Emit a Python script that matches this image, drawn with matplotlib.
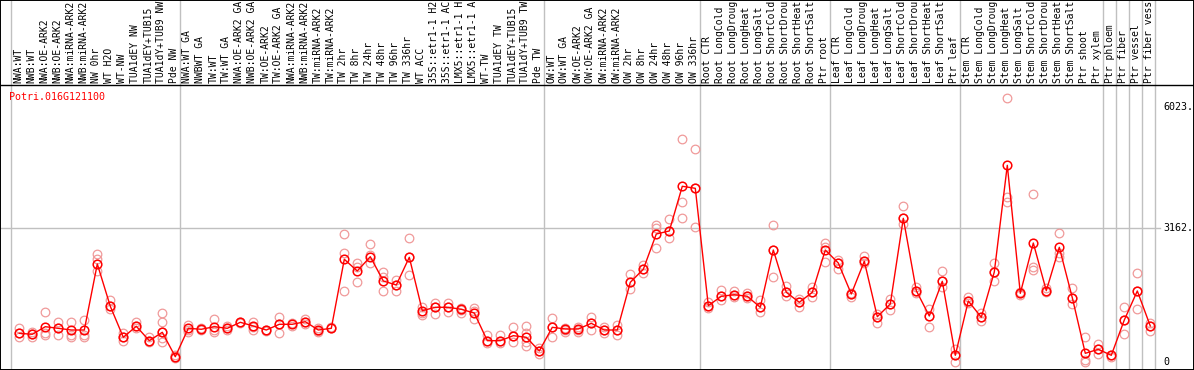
import matplotlib
matplotlib.use("Agg")
import matplotlib.pyplot as plt

gene = "Potri.016G121100"

# sample labels as they are shown (the viewer cuts them at 14 characters)
labels = [
    "NWA:WT", "NWB:WT", "NWA:OE-ARK2", "NWB:OE-ARK2", "NWA:miRNA-ARK2", "NWB:miRNA-ARK2",
    "NW 0hr", "WT H2O", "WT-NW", "TUA1dEY NW", "TUA1dEY+TUB15", "TUA1dY+TUB9 NW", "Pde NW",
    "NWA:WT GA", "NWBWT GA", "TW:WT", "TW:WT GA", "NWA:OE-ARK2 GA", "NWB:OE-ARK2 GA",
    "TW:OE-ARK2", "TW:OE-ARK2 GA", "NWA:miRNA-ARK2", "NWB:miRNA-ARK2", "TW:miRNA-ARK2",
    "TW:miRNA-ARK2", "TW 2hr", "TW 8hr", "TW 24hr", "TW 48hr", "TW 96hr", "TW 336hr",
    "WT ACC", "35S::etr1-1 H2", "35S::etr1-1 AC", "LMX5::etr1-1 H", "LMX5::etr1-1 A",
    "WT-TW", "TUA1dEY TW", "TUA1dEY+TUB15", "TUA1dY+TUB9 TW", "Pde TW",
    "OW:WT", "OW:WT GA", "OW:OE-ARK2", "OW:OE-ARK2 GA", "OW:miRNA-ARK2", "OW:miRNA-ARK2",
    "OW 2hr", "OW 8hr", "OW 24hr", "OW 48hr", "OW 96hr", "OW 336hr",
    "Root CTR", "Root LongCold", "Root LongDroug", "Root LongHeat", "Root LongSalt",
    "Root ShortCold", "Root ShortDrou", "Root ShortHeat", "Root ShortSalt", "Ptr root",
    "Leaf CTR", "Leaf LongCold", "Leaf LongDroug", "Leaf LongHeat", "Leaf LongSalt",
    "Leaf ShortCold", "Leaf ShortDrou", "Leaf ShortHeat", "Leaf ShortSalt", "Ptr leaf",
    "Stem CTR", "Stem LongCold", "Stem LongDroug", "Stem LongHeat", "Stem LongSalt",
    "Stem ShortCold", "Stem ShortDrou", "Stem ShortHeat", "Stem ShortSalt",
    "Ptr shoot", "Ptr xylem",
    "Ptr phloem", "Ptr fiber", "Ptr vessel", "Ptr fiber vess",
]

# index where each sample group starts (last entry = end)
group_starts = [0, 13, 41, 53, 63, 73, 84, 85, 86, 87, 88]

means = [
    677, 654, 833, 795, 755, 755, 2313, 1315, 583, 843, 503, 701, 125,
    795, 772, 833, 795, 937, 850, 755, 890, 890, 951, 755, 795, 2424, 2148, 2485,
    1912, 1817, 2471, 1211, 1291, 1291, 1244, 1156, 503, 503, 621, 583, 260,
    819, 779, 779, 913, 755, 755, 1881, 2188, 3021, 3092, 4147, 4099,
    1329, 1551, 1588, 1551, 1291, 2643, 1645, 1409, 1645, 2643,
    2336, 1605, 2377, 1069, 1369, 3391, 1683, 1086, 1905, 158,
    1440, 1055, 2124, 4642, 1621, 2808, 1683, 2707, 1517, 205, 300,
    158, 991, 1676, 850,
]

replicates = [
    [795, 677, 597], [715, 654, 583], [1173, 677, 637], [937, 795, 637],
    [937, 637, 583], [991, 637, 583], [2542, 2424, 2155], [1463, 1244, 1315],
    [677, 583, 503], [937, 843, 795], [583, 503, 479], [1149, 951, 701, 559, 479],
    [165, 118, 87],
    [873, 755, 701], [795, 755], [1015, 755, 715], [850, 795, 755], [951, 927],
    [937, 833, 755], [755, 732], [1069, 890, 677], [927, 850], [1008, 951, 897],
    [795, 732, 715], [795, 826], [3021, 2565, 1676], [2329, 2249, 1881],
    [2785, 2525, 2329], [2117, 2013, 1676], [1935, 1817, 1683], [2919, 2471, 2046],
    [1291, 1149, 1109], [1385, 1305, 1126], [1385, 1291, 1187], [1267, 1227, 1149],
    [1267, 1211, 1008], [637, 503, 441], [637, 503, 455], [819, 621, 479],
    [850, 677, 479, 378], [323, 260, 189],
    [1031, 819, 583], [795, 755, 715], [833, 755, 715], [1069, 913, 755],
    [833, 755, 691], [873, 755, 637], [2077, 1881, 1716], [2289, 2188, 2093],
    [3233, 3155, 2683], [3375, 3092, 2919], [5256, 3769, 3391], [5020, 4099, 3179],
    [1423, 1329, 1267], [1699, 1551, 1463], [1683, 1588, 1527], [1621, 1551, 1503],
    [1463, 1291, 1187], [3226, 2643, 2013], [1794, 1645, 1558], [1480, 1409, 1305],
    [1763, 1645, 1541], [2801, 2721, 2367],
    [2407, 2336, 2188], [1635, 1605, 1541], [2502, 2377, 2329], [1133, 1069, 913],
    [1480, 1369, 1227], [3682, 3391, 3257], [1777, 1683, 1635], [1258, 1086, 833],
    [2148, 1905, 1777], [314, 158, 7],
    [1527, 1440, 1399], [1149, 1055, 975], [2329, 2124, 1912], [6223, 3901, 3783],
    [1659, 1621, 1581], [3958, 2249, 2171], [1739, 1683, 1645], [3037, 2565, 2485],
    [1739, 1517, 1369], [583, 47, 0], [425, 300, 189],
    [158, 118], [1305, 991, 654], [2093, 1676, 1251], [913, 850, 739],
]

y_ticks = [6023, 3162, 0]
y_tick_labels = ["6023.", "3162.", "0"]
grid_value = 3162

# figure geometry (pixels)
W, H = 1194, 370
PX0, COL = 19.3, 13.0      # x pixel of first sample, column width
Y0PX, VPP = 362, 23.6      # y pixel of zero, value per pixel
MONO = "DejaVu Sans Mono"
RED = "#ff0000"
PINK = "#f09a9a"
GRID = "#c0c0c0"

fig = plt.figure(figsize=(W / 100, H / 100), dpi=100)
ax = fig.add_axes([0, 0, 1, 1])
ax.set_xlim(-PX0 / COL, (W - PX0) / COL)
ax.set_ylim(-(H - Y0PX) * VPP, Y0PX * VPP)
ax.set_xticks([])
ax.set_yticks([])
for s in ax.spines.values():
    s.set_color("black")
    s.set_linewidth(1.4)

# group separators, running through the label band too
for k in group_starts:
    ax.axvline(k - 8.3 / COL, color=GRID, lw=1.0, zorder=1)
ax.axhline(grid_value, xmin=0, xmax=1160 / W, color=GRID, lw=1.0, zorder=1)
ax.plot([0, 1], [1 - 85 / H] * 2, transform=ax.transAxes, color="black", lw=1.0, zorder=2)

xs = list(range(len(means)))

# replicate measurements
for i, reps in enumerate(replicates):
    ax.plot([i] * len(reps), reps, linestyle="none", marker="o", markersize=6.2,
            markerfacecolor="none", markeredgecolor=PINK, markeredgewidth=0.9, zorder=3)

# mean line
ax.plot(xs, means, color=RED, lw=1.0, marker="o", markersize=6.2,
        markerfacecolor="none", markeredgecolor=RED, markeredgewidth=1.1, zorder=4)

# sample labels (vertical)
tx = ax.get_xaxis_transform()
for i, lab in enumerate(labels):
    ax.text(i - 0.08, 1 - 83 / H, lab, rotation=90, ha="center", va="bottom",
            family=MONO, fontsize=7.0, color="black", transform=tx)

ax.text(9 / W, 1 - 97 / H, gene, transform=ax.transAxes, family=MONO, fontsize=7.2,
        color=RED, ha="left", va="center")

ty = ax.get_yaxis_transform()
for v, lab in zip(y_ticks, y_tick_labels):
    ax.text(1163 / W, v, lab, transform=ty, family=MONO, fontsize=7.2,
            color="black", ha="left", va="center")

fig.savefig("out.png", dpi=100, facecolor="white")
